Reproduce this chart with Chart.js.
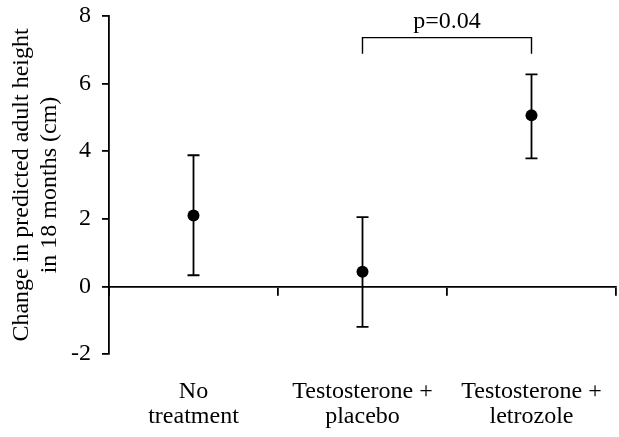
<!DOCTYPE html>
<html>
<head>
<meta charset="utf-8">
<script src="https://cdn.jsdelivr.net/npm/chart.js@4"></script>
<style>
  html, body { margin: 0; padding: 0; background: #fff; }
  #wrap { width: 619px; height: 437px; }
</style>
</head>
<body>
<div id="wrap"><canvas id="pah"></canvas></div>
<script>
const groups = [["No", "treatment"], ["Testosterone +", "placebo"], ["Testosterone +", "letrozole"]];
const means = [2.1, 0.43, 5.06];
const lows = [0.33, -1.2, 3.79];
const highs = [3.88, 2.05, 6.27];
const yTicks = [-2, 0, 2, 4, 6, 8];

// significance bracket between group 2 and 3
const pText = "p=0.04";
const bracketFrom = 1;
const bracketTo = 2;
const bracketTop = 7.36;
const bracketFoot = 6.88;

const serif = "'Liberation Serif', 'Times New Roman', serif";
const ink = "#000";
const lw = 1.8;

const errorBars = {
    id: "errorBars",
    afterDatasetsDraw(chart) {
        const ctx = chart.ctx;
        const x = chart.scales.x;
        const y = chart.scales.y;
        ctx.save();
        ctx.strokeStyle = ink;
        ctx.lineWidth = lw;
        for (let i = 0; i < means.length; i++) {
            const px = x.getPixelForValue(i);
            const lo = y.getPixelForValue(lows[i]);
            const hi = y.getPixelForValue(highs[i]);
            ctx.beginPath();
            ctx.moveTo(px, lo); ctx.lineTo(px, hi);
            ctx.moveTo(px - 6, lo); ctx.lineTo(px + 6, lo);
            ctx.moveTo(px - 6, hi); ctx.lineTo(px + 6, hi);
            ctx.stroke();
        }
        // bracket
        const x1 = x.getPixelForValue(bracketFrom);
        const x2 = x.getPixelForValue(bracketTo);
        const yt = y.getPixelForValue(bracketTop);
        const yf = y.getPixelForValue(bracketFoot);
        ctx.lineWidth = 1.4;
        ctx.beginPath();
        ctx.moveTo(x1, yf); ctx.lineTo(x1, yt); ctx.lineTo(x2, yt); ctx.lineTo(x2, yf);
        ctx.stroke();
        ctx.fillStyle = ink;
        ctx.font = "24px " + serif;
        ctx.textAlign = "center";
        ctx.textBaseline = "alphabetic";
        ctx.fillText(pText, (x1 + x2) / 2, yt - 10);
        ctx.restore();
    }
};

const canvas = document.getElementById("pah");

const cfg = {
    type: "line",
    data: {
        labels: groups,
        datasets: [
            {
                data: means,
                showLine: false,
                pointRadius: 6,
                pointHoverRadius: 6,
                pointBackgroundColor: ink,
                pointBorderColor: ink,
                pointBorderWidth: 0
            }
        ]
    },
    options: {
        responsive: true,
        maintainAspectRatio: false,
        animation: false,
        events: [],
        layout: { autoPadding: false, padding: { top: 16, right: 3, left: 0, bottom: 0 } },
        plugins: { legend: { display: false }, tooltip: { enabled: false } },
        scales: {
            x: {
                type: "category",
                offset: true,
                grid: { display: false, drawTicks: false },
                border: { display: false },
                ticks: {
                    color: ink,
                    padding: 25,
                    maxRotation: 0,
                    autoSkip: false,
                    font: { family: serif, size: 24, lineHeight: 1.05 }
                },
                afterFit(s) { s.height = 83; s.paddingLeft = 0; s.paddingRight = 0; }
            },
            x2: {
                type: "category",
                labels: groups,
                position: { y: 0 },
                offset: true,
                ticks: { display: false },
                grid: { offset: true, drawOnChartArea: false, tickLength: 8, color: ink, lineWidth: lw },
                border: { display: true, color: ink, width: lw },
                afterFit(s) { s.height = 0; s.paddingLeft = 0; s.paddingRight = 0; }
            },
            y: {
                min: yTicks[0],
                max: yTicks[yTicks.length - 1],
                afterBuildTicks(s) { s.ticks = yTicks.map(v => ({ value: v })); },
                grid: { drawOnChartArea: false, tickLength: 7, color: ink, lineWidth: lw },
                border: { display: true, color: ink, width: lw },
                ticks: {
                    color: ink,
                    padding: 11,
                    font: { family: serif, size: 24 }
                },
                title: {
                    display: true,
                    text: ["Change in predicted adult height", "in 18 months (cm)"],
                    color: ink,
                    padding: { top: 8, bottom: 0 },
                    font: { family: serif, size: 24, lineHeight: 1.17 }
                },
                afterFit(s) { s.width = 109; s.paddingTop = 0; s.paddingBottom = 0; }
            }
        }
    },
    plugins: [errorBars]
};

const chart = new Chart(canvas, cfg);
</script>
</body>
</html>
